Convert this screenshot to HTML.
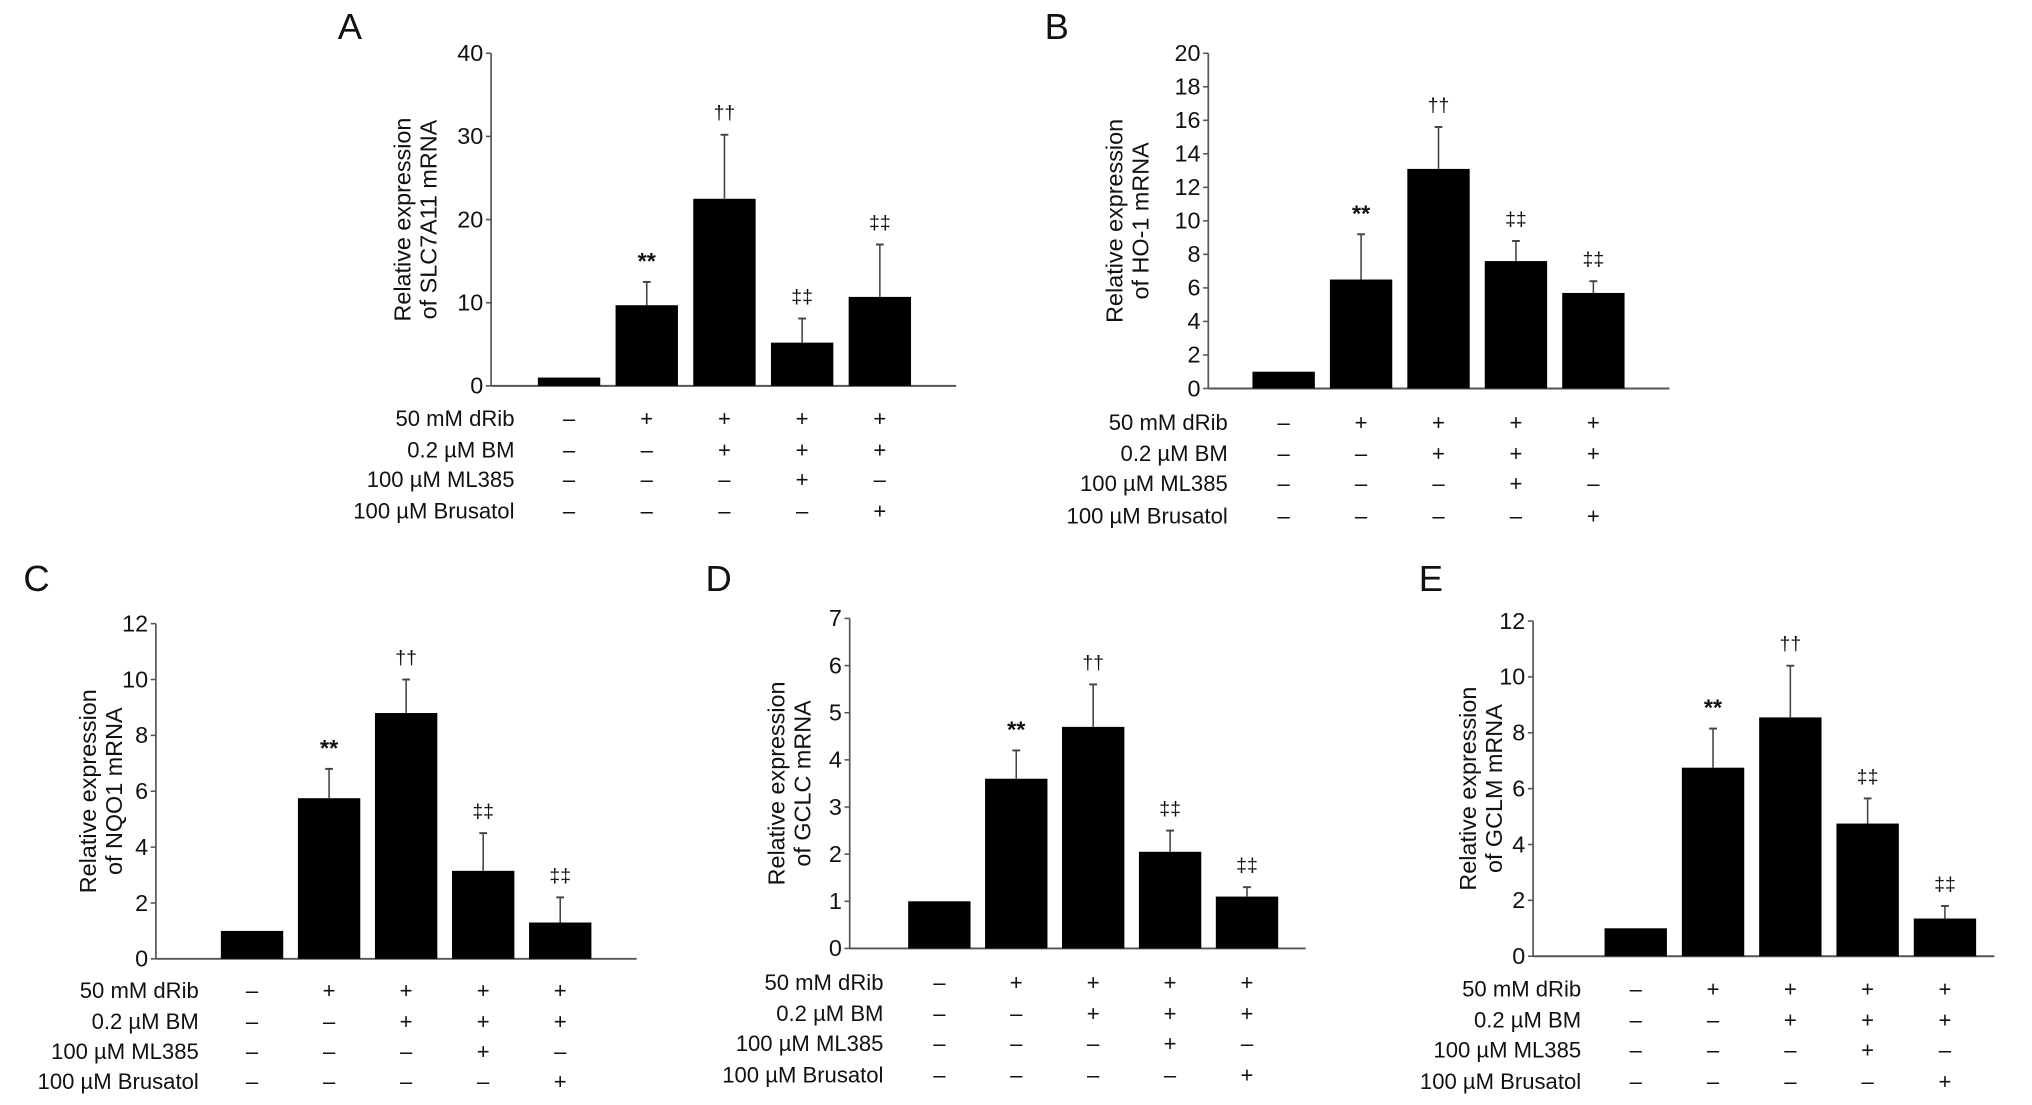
<!DOCTYPE html>
<html><head><meta charset="utf-8"><style>
html,body{margin:0;padding:0;background:#fff}
svg{display:block}
text{font-family:"Liberation Sans Narrow","Liberation Sans",sans-serif;fill:#111}
</style></head><body>
<svg id="fig" width="2032" height="1105" viewBox="0 0 1564 850.5" preserveAspectRatio="none" xmlns="http://www.w3.org/2000/svg"></svg>
<script>
// ---- data ----
const conditionLabels = ["50 mM dRib","0.2 \u00b5M BM","100 \u00b5M ML385","100 \u00b5M Brusatol"];
const signRows = [["-","+","+","+","+"],["-","-","+","+","+"],["-","-","-","+","-"],["-","-","-","-","+"]];
const valuesA = [1,9.7,22.5,5.2,10.7];
const errorsA = [0,12.5,30.2,8.1,17];
const ticksA = [0,10,20,30,40];
const valuesB = [1,6.5,13.1,7.6,5.7];
const errorsB = [0,9.2,15.6,8.8,6.4];
const ticksB = [0,2,4,6,8,10,12,14,16,18,20];
const valuesC = [1,5.75,8.8,3.15,1.3];
const errorsC = [0,6.8,10,4.5,2.2];
const ticksC = [0,2,4,6,8,10,12];
const valuesD = [1,3.6,4.7,2.05,1.1];
const errorsD = [0,4.2,5.6,2.5,1.3];
const ticksD = [0,1,2,3,4,5,6,7];
const valuesE = [1,6.75,8.55,4.75,1.35];
const errorsE = [0,8.15,10.4,5.65,1.8];
const ticksE = [0,2,4,6,8,10,12];
const marks = ["","**","\u2020\u2020","\u2021\u2021","\u2021\u2021"];

const panels = [
 {id:"a",letter:"A",lx:260,ly:30,ax:378,top:41,bot:297,xend:736,c0:438,dx:59.8,rows:[322,346,369,393],labR:396,title:["Relative expression","of SLC7A11 mRNA"],tx:316,vals:valuesA,errs:errorsA,ticks:ticksA},
 {id:"b",letter:"B",lx:804,ly:30,ax:930,top:41,bot:299,xend:1285,c0:988,dx:59.6,rows:[325,349,372,397],labR:945,title:["Relative expression","of HO-1 mRNA"],tx:864,vals:valuesB,errs:errorsB,ticks:ticksB},
 {id:"c",letter:"C",lx:18,ly:455,ax:120,top:480,bot:738,xend:490,c0:194,dx:59.3,rows:[762,786,809,832],labR:153,title:["Relative expression","of NQO1 mRNA"],tx:74,vals:valuesC,errs:errorsC,ticks:ticksC},
 {id:"d",letter:"D",lx:543,ly:455,ax:654,top:476,bot:730,xend:1005,c0:723,dx:59.2,rows:[756,780,803,827],labR:680,title:["Relative expression","of GCLC mRNA"],tx:604,vals:valuesD,errs:errorsD,ticks:ticksD},
 {id:"e",letter:"E",lx:1092,ly:455,ax:1180,top:478,bot:736,xend:1535,c0:1259,dx:59.5,rows:[761,785,808,832],labR:1217,title:["Relative expression","of GCLM mRNA"],tx:1136,vals:valuesE,errs:errorsE,ticks:ticksE}
];

const NS="http://www.w3.org/2000/svg";
const svg=document.getElementById("fig");
function mk(tag,attrs,parent,txt){const e=document.createElementNS(NS,tag);for(const k in attrs)e.setAttribute(k,attrs[k]);if(txt!==undefined)e.textContent=txt;parent.appendChild(e);return e;}

panels.forEach(p=>{
  const g=mk("g",{},svg);
  
  
  const maxT=p.ticks[p.ticks.length-1];
  const y=v=>p.bot-(v/maxT)*(p.bot-p.top);
  const xc=i=>p.c0+i*p.dx;
  const lt=mk("text",{x:p.lx,y:p.ly,"font-size":28},g,p.letter);
  
  
  const yl=mk("line",{x1:p.ax,y1:p.top,x2:p.ax,y2:p.bot,stroke:"#555","stroke-width":1.3},g);
  
  
  const xl=mk("line",{x1:p.ax,y1:p.bot,x2:p.xend,y2:p.bot,stroke:"#555","stroke-width":1.5},g);
  
  
  p.ticks.forEach(t=>{
    mk("line",{x1:p.ax-4,y1:y(t),x2:p.ax,y2:y(t),stroke:"#555","stroke-width":1.2},g);
    const tl=mk("text",{x:p.ax-6,y:y(t)+6,"font-size":18,"text-anchor":"end"},g,String(t));
    
    
  });
  const yc=(p.top+p.bot)/2;
  const tt=mk("text",{transform:`translate(${p.tx},${yc}) rotate(-90)`,"font-size":18,"text-anchor":"middle"},g);
  
  
  mk("tspan",{x:0,y:0},tt,p.title[0]);
  mk("tspan",{x:0,y:20},tt,p.title[1]);
  p.vals.forEach((v,i)=>{
    const w=48;
    const b=mk("rect",{x:xc(i)-w/2,y:y(v),width:w,height:p.bot-y(v),fill:"#000"},g);
    
    
    if(p.errs[i]>v){
      const e=mk("line",{x1:xc(i),y1:y(v),x2:xc(i),y2:y(p.errs[i]),stroke:"#444","stroke-width":1.2},g);
      
      
      mk("line",{x1:xc(i)-3,y1:y(p.errs[i]),x2:xc(i)+3,y2:y(p.errs[i]),stroke:"#444","stroke-width":1.5},g);
    }
    if(marks[i]){
      const top=y(Math.max(p.errs[i],v));
      const off = marks[i]==="**"?10:12;
      const m=mk("text",{x:xc(i),y:top-off,"font-size":marks[i]==="**"?18:15,"text-anchor":"middle","font-weight":marks[i]==="**"?"bold":"normal",fill:"#333"},g,marks[i]);
      
      
    }
  });
  conditionLabels.forEach((lab,r)=>{
    const l=mk("text",{x:p.labR,y:p.rows[r]+6,"font-size":17,"text-anchor":"end"},g,lab);
    
    
    signRows[r].forEach((s,i)=>{
      const st=mk("text",{x:xc(i),y:p.rows[r]+6,"font-size":17,"text-anchor":"middle"},g,s==="-"?"\u2013":"+");
      
      
    });
  });
});
</script>
</body></html>
